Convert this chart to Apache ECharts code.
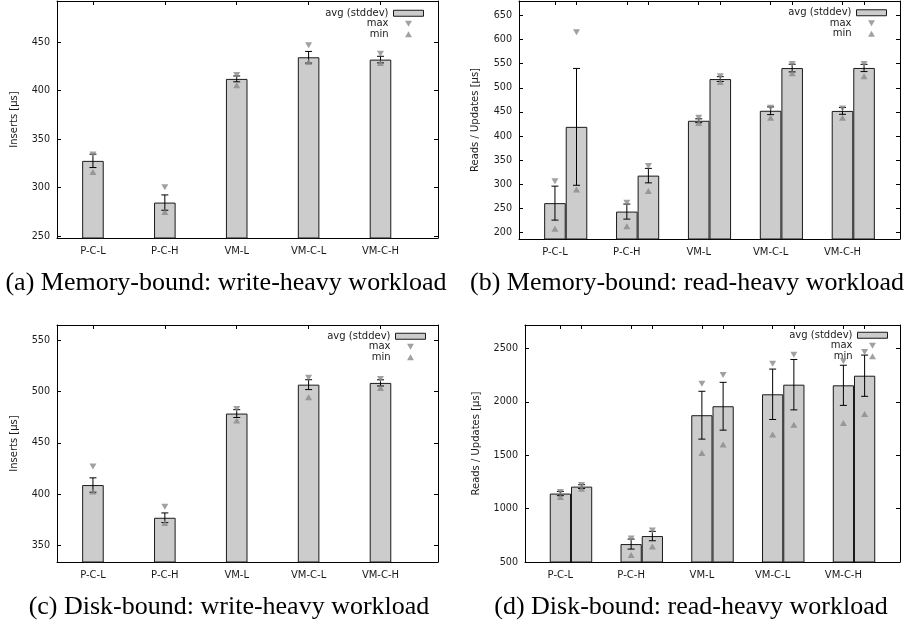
<!DOCTYPE html>
<html><head><meta charset="utf-8">
<script src="https://cdn.jsdelivr.net/npm/echarts@6/dist/echarts.min.js"></script>
<style>html,body{margin:0;padding:0;background:#fff}#c{width:915px;height:628px}</style>
</head><body><div id="c"></div>
<script>
// ---- data ----
const categories = ['P-C-L', 'P-C-H', 'VM-L', 'VM-C-L', 'VM-C-H'];

// (a) Memory-bound, write-heavy
const aAvg = [327.7, 284.7, 412.2, 434.5, 432.1];
const aSd  = [6.9, 7.9, 3.0, 6.0, 3.4];
const aMax = [334.2, 300.5, 416.3, 446.9, 438.0];
const aMin = [316.3, 275.0, 405.7, 429.7, 428.7];

// (b) Memory-bound, read-heavy (two bars per category)
const bAvg1 = [261.0, 243.5, 431.6, 452.3, 452.0];
const bSd1  = [35.2, 15.6, 4.0, 8.0, 7.0];
const bMax1 = [306.4, 262.0, 438.0, 458.5, 457.0];
const bMin1 = [208.0, 213.0, 427.0, 438.0, 438.0];
const bAvg2 = [419.0, 318.0, 518.0, 540.8, 541.0];
const bSd2  = [121.0, 15.0, 5.0, 8.0, 7.5];
const bMax2 = [615.0, 338.0, 524.0, 549.0, 549.0];
const bMin2 = [289.0, 286.0, 512.0, 530.0, 524.0];

// (c) Disk-bound, write-heavy
const cAvg = [409.0, 377.2, 478.5, 506.6, 508.3];
const cSd  = [7.0, 4.7, 3.8, 4.8, 3.0];
const cMax = [427.0, 388.0, 483.0, 513.4, 512.0];
const cMin = [402.8, 372.0, 471.7, 494.3, 503.4];

// (d) Disk-bound, read-heavy (two bars per category)
const dAvg1 = [1141, 668, 1875, 2071, 2155];
const dSd1  = [20, 47, 224, 236, 188];
const dMax1 = [1156, 721, 2170, 2357, 2380];
const dMin1 = [1110, 565, 1520, 1694, 1803];
const dAvg2 = [1206, 743, 1959, 2161, 2245];
const dSd2  = [18, 44, 224, 236, 193];
const dMax2 = [1221, 795, 2251, 2441, 2466];
const dMin2 = [1187, 646, 1601, 1785, 1887];

// tick labels
const yTicksA = [250, 300, 350, 400, 450];
const yTicksB = [200, 250, 300, 350, 400, 450, 500, 550, 600, 650];
const yTicksC = [350, 400, 450, 500, 550];
const yTicksD = [500, 1000, 1500, 2000, 2500];

const yNameWrite = 'Inserts [µs]';
const yNameRead = 'Reads / Updates [µs]';
const captions = [
  '(a) Memory-bound: write-heavy workload',
  '(b) Memory-bound: read-heavy workload',
  '(c) Disk-bound: write-heavy workload',
  '(d) Disk-bound: read-heavy workload'
];
const legendNames = ['avg (stddev)', 'max', 'min'];
const barOffset = 0.3; // second bar of a cluster sits one box width to the right

// ---- layout ----
const SANS = 'DejaVu Sans';
const panels = [
  { grid: {left: 57, top: 1, width: 381, height: 237}, yMin: 248.2, yMax: 492.5, ticks: yTicksA,
    yName: yNameWrite, nameGap: 38, legend: {right: 491, top: 8}, cap: [226, 283],
    groups: [{avg: aAvg, sd: aSd, max: aMax, min: aMin, off: 0}] },
  { grid: {left: 519, top: 1, width: 381, height: 238}, yMin: 186.7, yMax: 679.7, ticks: yTicksB,
    yName: yNameRead, nameGap: 39, legend: {right: 28, top: 7.5}, cap: [687, 283],
    groups: [{avg: bAvg1, sd: bSd1, max: bMax1, min: bMin1, off: 0},
             {avg: bAvg2, sd: bSd2, max: bMax2, min: bMin2, off: barOffset}] },
  { grid: {left: 57, top: 325, width: 381, height: 237}, yMin: 334.2, yMax: 564.6, ticks: yTicksC,
    yName: yNameWrite, nameGap: 38, legend: {right: 489, top: 331}, cap: [229, 607],
    groups: [{avg: cAvg, sd: cSd, max: cMax, min: cMin, off: 0}] },
  { grid: {left: 525, top: 325, width: 375, height: 237}, yMin: 500, yMax: 2720, ticks: yTicksD,
    yName: yNameRead, nameGap: 44, legend: {right: 27, top: 330}, cap: [691, 607],
    groups: [{avg: dAvg1, sd: dSd1, max: dMax1, min: dMin1, off: 0},
             {avg: dAvg2, sd: dSd2, max: dMax2, min: dMin2, off: barOffset}] }
];

function renderErr(params, api) {
  const x = api.value(0), lo = api.value(1), hi = api.value(2);
  const p1 = api.coord([x, lo]), p2 = api.coord([x, hi]);
  const cw = 3.5;
  const st = {stroke: '#000', lineWidth: 1};
  return {type: 'group', children: [
    {type: 'line', shape: {x1: p1[0], y1: p1[1], x2: p2[0], y2: p2[1]}, style: st},
    {type: 'line', shape: {x1: p1[0] - cw, y1: p1[1], x2: p1[0] + cw, y2: p1[1]}, style: st},
    {type: 'line', shape: {x1: p2[0] - cw, y1: p2[1], x2: p2[0] + cw, y2: p2[1]}, style: st}
  ]};
}

const option = {
  animation: false,
  backgroundColor: '#fff',
  grid: [], xAxis: [], yAxis: [], series: [], legend: [], graphic: []
};

const axisLineStyle = {show: true, onZero: false, lineStyle: {color: '#000', width: 1}};
const labelStyle = {fontFamily: SANS, fontSize: 9.6, color: '#1a1a1a'};

panels.forEach((p, i) => {
  option.grid.push(Object.assign({containLabel: false}, p.grid));
  const cats = categories.map((_, j) => j);
  const tickPos = [];
  p.groups.forEach(g => cats.forEach(j => tickPos.push(j + g.off)));
  tickPos.sort((u, v) => u - v);
  const xCommon = {type: 'value', gridIndex: i, min: -0.5, max: 4.8, splitLine: {show: false},
    axisLine: axisLineStyle,
    axisTick: {show: true, inside: true, length: 4, customValues: tickPos, lineStyle: {color: '#000'}}};
  option.xAxis.push(Object.assign({}, xCommon, {position: 'bottom',
    axisLabel: {show: true, margin: 8, customValues: cats, formatter: v => categories[Math.round(v)], ...labelStyle, fontSize: 10}}));
  option.xAxis.push(Object.assign({}, xCommon, {position: 'top', axisLabel: {show: false}}));
  const yCommon = {type: 'value', gridIndex: i, min: p.yMin, max: p.yMax, splitLine: {show: false},
    axisLine: axisLineStyle,
    axisTick: {show: true, inside: true, length: 4, customValues: p.ticks, lineStyle: {color: '#000'}}};
  option.yAxis.push(Object.assign({}, yCommon, {position: 'left',
    name: p.yName, nameLocation: 'middle', nameGap: p.nameGap,
    nameTextStyle: {fontFamily: SANS, fontSize: 10, color: '#1a1a1a'},
    axisLabel: {show: true, margin: 7, customValues: p.ticks, formatter: v => String(v), ...labelStyle}}));
  option.yAxis.push(Object.assign({}, yCommon, {position: 'right', axisLabel: {show: false}}));

  const xi = 2 * i, yi = 2 * i;
  p.groups.forEach(g => {
    option.series.push({type: 'bar', name: legendNames[0], xAxisIndex: xi, yAxisIndex: yi,
      barWidth: p.grid.width / 5.3 * 0.3, barGap: '-100%', clip: true,
      itemStyle: {color: '#cccccc', borderColor: '#1a1a1a', borderWidth: 1},
      data: g.avg.map((v, j) => [j + g.off, v]), z: 2});
    option.series.push({type: 'custom', name: 'stddev', xAxisIndex: xi, yAxisIndex: yi, clip: true,
      renderItem: renderErr, encode: {x: 0, y: [1, 2]},
      data: g.avg.map((v, j) => [j + g.off, v - g.sd[j], v + g.sd[j]]), z: 3});
  });
  p.groups.forEach(g => {
    option.series.push({type: 'scatter', name: legendNames[1], xAxisIndex: xi, yAxisIndex: yi,
      symbol: 'triangle', symbolRotate: 180, symbolSize: [7, 6], itemStyle: {color: '#8a8a8a'},
      data: g.max.map((v, j) => [j + g.off, v]), z: 4});
    option.series.push({type: 'scatter', name: legendNames[2], xAxisIndex: xi, yAxisIndex: yi,
      symbol: 'triangle', symbolSize: [7, 6], itemStyle: {color: '#8a8a8a'},
      data: g.min.map((v, j) => [j + g.off, v]), z: 4});
  });

  option.legend.push({orient: 'vertical', align: 'right', right: p.legend.right, top: p.legend.top,
    padding: 0, itemGap: 0, itemWidth: 30, itemHeight: 6, selectedMode: false,
    textStyle: {fontFamily: SANS, fontSize: 10, color: '#1a1a1a', lineHeight: 10.5},
    data: [
      {name: legendNames[0], icon: 'rect', itemStyle: {color: '#cccccc', borderColor: '#1a1a1a', borderWidth: 1}},
      {name: legendNames[1], icon: 'path://M0,0L10,0L5,8.7Z', itemStyle: {color: '#8a8a8a', borderWidth: 0}},
      {name: legendNames[2], icon: 'path://M5,0L10,8.7L0,8.7Z', itemStyle: {color: '#8a8a8a', borderWidth: 0}}
    ]});

  option.graphic.push({type: 'text', x: p.cap[0], y: p.cap[1], silent: true,
    style: {text: captions[i], fill: '#000', font: '26px "Liberation Serif"', textAlign: 'center', textVerticalAlign: 'middle'}});
});

const chart = echarts.init(document.getElementById('c'), null, {renderer: 'canvas'});
chart.setOption(option);
</script>
</body></html>
